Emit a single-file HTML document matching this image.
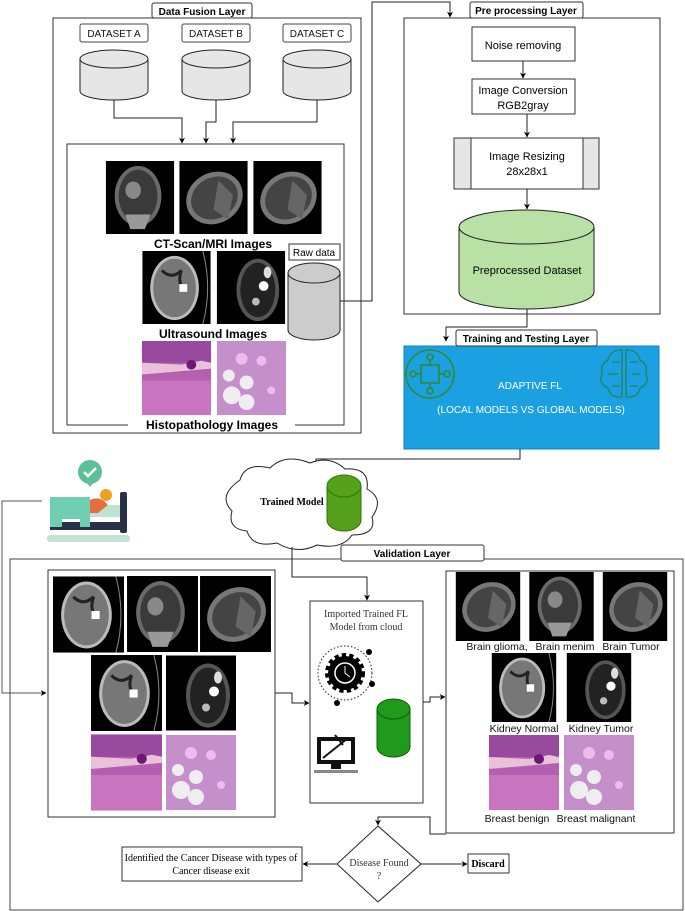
<!DOCTYPE html>
<html><head><meta charset="utf-8"><style>
html,body{margin:0;padding:0;background:#fff;}
svg{display:block;}
text{font-family:"Liberation Sans",sans-serif;}
.s{font-family:"Liberation Serif",serif;}
</style></head><body>
<svg width="685" height="911" viewBox="0 0 685 911" xmlns="http://www.w3.org/2000/svg">
<defs>
<marker id="a" viewBox="0 0 10 10" refX="9" refY="5" markerWidth="6" markerHeight="6" orient="auto"><path d="M0,0 L10,5 L0,10 L3,5 z" fill="#000"/></marker>
<symbol id="mri" viewBox="0 0 70 75"><rect width="70" height="75" fill="#000"/><ellipse cx="33" cy="36" rx="24" ry="31" fill="#6a6a6a"/><ellipse cx="33" cy="36" rx="20" ry="27" fill="#3a3a3a"/><ellipse cx="28" cy="30" rx="8" ry="9" fill="#888"/><path d="M20 55 L25 70 L40 70 L46 55" fill="#999"/></symbol>
<symbol id="mri2" viewBox="0 0 70 75"><rect width="70" height="75" fill="#000"/><ellipse cx="36" cy="38" rx="30" ry="26" fill="#777" transform="rotate(-30 36 38)"/><ellipse cx="36" cy="38" rx="25" ry="21" fill="#444" transform="rotate(-30 36 38)"/><path d="M40 20 L55 35 L50 60 L35 50z" fill="#666"/></symbol>
<symbol id="kid" viewBox="0 0 70 75"><rect width="70" height="75" fill="#000"/><ellipse cx="33" cy="38" rx="25" ry="33" fill="#bbb"/><ellipse cx="33" cy="38" rx="22" ry="30" fill="#777"/><path d="M20 20 q10 10 20 0 q-5 15 5 20" stroke="#222" stroke-width="3" fill="none"/><rect x="38" y="34" width="8" height="8" fill="#fff"/><path d="M62 0 Q72 38 62 75" stroke="#888" fill="none"/></symbol>
<symbol id="kid2" viewBox="0 0 70 75"><rect width="70" height="75" fill="#000"/><ellipse cx="42" cy="40" rx="22" ry="32" fill="#555"/><ellipse cx="42" cy="40" rx="18" ry="28" fill="#222"/><circle cx="48" cy="36" r="5" fill="#fff"/><circle cx="40" cy="52" r="4" fill="#bbb"/><ellipse cx="52" cy="22" rx="4" ry="6" fill="#ddd"/></symbol>
<symbol id="h1" viewBox="0 0 70 75"><rect width="70" height="75" fill="#b55fb0"/><rect y="0" width="70" height="22" fill="#9a4a9e"/><path d="M0 22 L40 24 L60 20 L70 22 L70 28 L0 34z" fill="#e8c2d8"/><circle cx="50" cy="24" r="5" fill="#6a1a70"/><rect y="40" width="70" height="35" fill="#c874be"/></symbol>
<symbol id="h2" viewBox="0 0 70 75"><rect width="70" height="75" fill="#c58fcb"/><circle cx="15" cy="55" r="9" fill="#eee"/><circle cx="30" cy="62" r="8" fill="#eee"/><circle cx="12" cy="35" r="6" fill="#eee"/><circle cx="30" cy="42" r="7" fill="#eee"/><circle cx="45" cy="20" r="5" fill="#ebe"/><circle cx="25" cy="18" r="6" fill="#ebe"/><circle cx="55" cy="50" r="4" fill="#ebe"/></symbol>
</defs>

<!-- Data fusion layer -->
<rect x="53" y="18" width="308" height="415" fill="none" stroke="#333" stroke-width="1"/>
<rect x="152" y="3" width="100" height="15" rx="2" fill="#fff" stroke="#333"/>
<text x="202" y="15" font-size="10" font-weight="bold" text-anchor="middle">Data Fusion Layer</text>
<g font-size="10" text-anchor="middle" fill="#111">
<rect x="80" y="24" width="68" height="18" rx="2" fill="#fff" stroke="#444"/><text x="114" y="37">DATASET A</text>
<rect x="182" y="24" width="68" height="18" rx="2" fill="#fff" stroke="#444"/><text x="216" y="37">DATASET B</text>
<rect x="283" y="24" width="68" height="18" rx="2" fill="#fff" stroke="#444"/><text x="317" y="37">DATASET C</text>
</g>
<g fill="#e6e6e6" stroke="#222">
<path d="M80 59 V91 A34 9 0 0 0 148 91 V59"/><ellipse cx="114" cy="59" rx="34" ry="9"/>
<path d="M182 59 V91 A34 9 0 0 0 250 91 V59"/><ellipse cx="216" cy="59" rx="34" ry="9"/>
<path d="M283 59 V91 A34 9 0 0 0 351 91 V59"/><ellipse cx="317" cy="59" rx="34" ry="9"/>
</g>
<g fill="none" stroke="#222" stroke-width="1">
<path d="M114 100 V118 H182 V143" marker-end="url(#a)"/>
<path d="M216 100 V122 H206 V143" marker-end="url(#a)"/>
<path d="M317 100 V122 H233 V143" marker-end="url(#a)"/>
</g>
<path d="M128 425 H67 V144 H344 V425 H295" fill="none" stroke="#333"/>
<use href="#mri" x="105" y="161" width="70" height="73"/>
<use href="#mri2" x="178" y="161" width="71" height="73"/>
<use href="#mri2" x="252" y="161" width="71" height="73"/>
<text x="213" y="248" font-size="12" font-weight="bold" text-anchor="middle">CT-Scan/MRI Images</text>
<use href="#kid" x="141" y="251" width="71" height="73"/>
<use href="#kid2" x="216" y="251" width="70" height="73"/>
<text x="213" y="338" font-size="12" font-weight="bold" text-anchor="middle">Ultrasound Images</text>
<use href="#h1" x="141" y="341" width="71" height="74"/>
<use href="#h2" x="216" y="341" width="71" height="74"/>
<text x="212" y="429" font-size="12" font-weight="bold" text-anchor="middle">Histopathology Images</text>
<rect x="289" y="244" width="51" height="16" fill="#fff" stroke="#333"/>
<text x="314" y="256" font-size="10" text-anchor="middle">Raw data</text>
<path d="M288 273 V330 A26 10 0 0 0 340 330 V273" fill="#cccccc" stroke="#222"/><ellipse cx="314" cy="273" rx="26" ry="10" fill="#cccccc" stroke="#222"/>
<path d="M340 301 H372 V2 H450 V17" fill="none" stroke="#222" marker-end="url(#a)"/>

<!-- Preprocessing -->
<rect x="404" y="18" width="256" height="296" fill="none" stroke="#333"/>
<rect x="470" y="2" width="113" height="16" rx="2" fill="#fff" stroke="#333"/>
<text x="526" y="14" font-size="10" font-weight="bold" text-anchor="middle">Pre processing Layer</text>
<rect x="472" y="27" width="103" height="34" fill="#fff" stroke="#333"/>
<text x="523" y="49" font-size="11" text-anchor="middle">Noise removing</text>
<path d="M523 61 V78" stroke="#222" marker-end="url(#a)"/>
<rect x="472" y="79" width="103" height="35" fill="#fff" stroke="#333"/>
<text x="523" y="94" font-size="11" text-anchor="middle">Image Conversion</text>
<text x="523" y="109" font-size="11" text-anchor="middle">RGB2gray</text>
<path d="M527 114 V137" stroke="#222" marker-end="url(#a)"/>
<rect x="454" y="138" width="145" height="51" fill="#e6e6e6" stroke="#333"/>
<rect x="471" y="138" width="112" height="51" fill="#fff" stroke="#333"/>
<text x="527" y="160" font-size="11" text-anchor="middle">Image Resizing</text>
<text x="527" y="175" font-size="11" text-anchor="middle">28x28x1</text>
<path d="M527 189 V209" stroke="#222" marker-end="url(#a)"/>
<path d="M459 227 V292 A67.5 17 0 0 0 594 292 V227" fill="#b9e0a5" stroke="#222"/><ellipse cx="526.5" cy="227" rx="67.5" ry="17" fill="#b9e0a5" stroke="#222"/>
<text x="527" y="274" font-size="11" text-anchor="middle">Preprocessed Dataset</text>
<path d="M527 309 V327 H446 V341" fill="none" stroke="#222" marker-end="url(#a)"/>

<!-- Training -->
<rect x="404" y="346" width="255" height="103" fill="#1ba1e2" stroke="#1480c0"/>
<rect x="456" y="330" width="141" height="16" rx="2" fill="#fff" stroke="#333"/>
<text x="526" y="342" font-size="10" font-weight="bold" text-anchor="middle">Training and Testing Layer</text>
<text x="530" y="389" font-size="10" fill="#fff" text-anchor="middle">ADAPTIVE FL</text>
<text x="531" y="413" font-size="10" fill="#fff" text-anchor="middle">(LOCAL MODELS VS GLOBAL MODELS)</text>
<g stroke="#2e8b2e" stroke-width="1.6" fill="none">
<circle cx="430" cy="374" r="24"/><rect x="421" y="365" width="18" height="18"/>
<circle cx="430" cy="357" r="3"/><circle cx="430" cy="391" r="3"/><circle cx="413" cy="374" r="3"/><circle cx="447" cy="374" r="3"/>
<path d="M430 360V365M430 383V388M416 374H421M439 374H444"/>
</g>
<g stroke="#1f8a70" stroke-width="1.6" fill="none">
<path d="M622 350 q-12 0 -14 10 q-8 4 -6 14 q-4 10 6 14 q2 10 14 9 z"/>
<path d="M626 350 q12 0 14 10 q8 4 6 14 q4 10 -6 14 q-2 10 -14 9 z"/>
<path d="M612 362h8M608 374h10M612 386h8M630 362h8M632 374h8M630 386h8"/>
</g>

<!-- to cloud -->
<path d="M520 449 V459 H316 V466" fill="none" stroke="#222" marker-end="url(#a)"/>
<path d="M240 480 q5 -18 30 -12 q15 -15 40 -5 q20 -8 35 6 q25 -2 22 20 q18 10 5 28 q5 18 -20 18 q-10 15 -35 10 q-20 10 -40 -2 q-25 5 -30 -12 q-20 -2 -15 -20 q-15 -15 8 -31 z" fill="#fff" stroke="#222"/>
<text x="292" y="505" class="s" font-size="10" font-weight="bold" text-anchor="middle">Trained Model</text>
<path d="M327 486 V520 A17 11 0 0 0 361 520 V486" fill="#55a11c" stroke="#2d7600"/><ellipse cx="344" cy="486" rx="17" ry="11" fill="#55a11c" stroke="#2d7600"/>

<!-- patient -->
<circle cx="90" cy="472" r="12" fill="#5cbf9a"/><path d="M84 472 l4 4 l8 -8" stroke="#fff" stroke-width="2.5" fill="none"/>
<path d="M86 482 l4 5 l4 -5z" fill="#5cbf9a"/>
<rect x="47" y="535" width="83" height="7" rx="3" fill="#c5e3d5"/>
<rect x="50" y="522" width="77" height="8" fill="#27324a"/>
<rect x="120" y="492" width="7" height="41" rx="2" fill="#27324a"/>
<path d="M50 497 h40 v30 h-10 v-8 h-18 v8 h-12z" fill="#6fcdb0"/>
<path d="M90 505 h30 v12 h-30z" fill="#bde3d4"/>
<circle cx="106" cy="495" r="6" fill="#f0a020"/><path d="M90 500 q10 -5 18 5 l-10 8 h-8z" fill="#e46f3d"/>

<!-- Validation -->
<path d="M42 501 H2 V693 H46" fill="none" stroke="#555" marker-end="url(#a)"/>
<rect x="10" y="559" width="673" height="351" fill="none" stroke="#444"/>
<rect x="341" y="545" width="143" height="16" rx="2" fill="#fff" stroke="#333"/>
<text x="412" y="557" font-size="10" font-weight="bold" text-anchor="middle">Validation Layer</text>
<rect x="48" y="570" width="227" height="247" fill="none" stroke="#333"/>
<use href="#kid" x="53" y="576" width="71" height="77"/>
<use href="#mri" x="127" y="576" width="71" height="76"/>
<use href="#mri2" x="200" y="576" width="71" height="76"/>
<use href="#kid" x="91" y="655" width="71" height="76"/>
<use href="#kid2" x="166" y="655" width="70" height="76"/>
<use href="#h1" x="91" y="734" width="71" height="77"/>
<use href="#h2" x="166" y="734" width="70" height="77"/>
<path d="M292 547 V577 H367 V600" fill="none" stroke="#222" marker-end="url(#a)"/>
<rect x="310" y="601" width="113" height="202" fill="#fff" stroke="#333"/>
<text x="366" y="617" class="s" font-size="10" text-anchor="middle" fill="#333">Imported Trained FL</text>
<text x="366" y="630" class="s" font-size="10" text-anchor="middle" fill="#333">Model from cloud</text>
<circle cx="345" cy="673" r="27" fill="none" stroke="#222" stroke-dasharray="1.5 2"/>
<circle cx="369" cy="652" r="3" fill="#000"/><circle cx="372" cy="684" r="3" fill="#000"/><circle cx="337" cy="703" r="3" fill="#000"/>
<circle cx="345" cy="673" r="17" fill="#000" stroke="#000" stroke-width="6" stroke-dasharray="4 3"/>
<circle cx="345" cy="673" r="10" fill="none" stroke="#fff" stroke-width="1.5"/><path d="M345 666 V673 L350 677" stroke="#fff" fill="none"/>
<rect x="317" y="737" width="38" height="27" fill="#111"/><rect x="321" y="741" width="30" height="19" fill="#fff"/>
<path d="M323 758 L348 738 M335 735 l8 10" stroke="#111" stroke-width="2"/>
<rect x="331" y="764" width="10" height="5" fill="#111"/><rect x="314" y="770" width="44" height="3" fill="#888"/>
<path d="M377 709 V747 A16.5 10 0 0 0 410 747 V709" fill="#1f9a1a" stroke="#0d5e0b"/><ellipse cx="393.5" cy="709" rx="16.5" ry="10" fill="#1f9a1a" stroke="#0d5e0b"/>
<path d="M275 693 H292 V703 H309" fill="none" stroke="#222" marker-end="url(#a)"/>
<path d="M423 702 H430 V697 H445" fill="none" stroke="#222" marker-end="url(#a)"/>
<rect x="446" y="571" width="228" height="262" fill="none" stroke="#333"/>
<use href="#mri2" x="453" y="572" width="70" height="69"/>
<use href="#mri" x="526" y="572" width="71" height="69"/>
<use href="#mri2" x="600" y="572" width="70" height="69"/>
<g font-size="10.5" text-anchor="middle" fill="#111">
<text x="497" y="650">Brain glioma,</text><text x="565" y="650">Brain menim</text><text x="631" y="650">Brain Tumor</text>
<text x="524" y="732">Kidney Normal</text><text x="601" y="732">Kidney Tumor</text>
<text x="517" y="822">Breast benign</text><text x="596" y="822">Breast malignant</text>
</g>
<use href="#kid" x="489" y="653" width="70" height="69"/>
<use href="#kid2" x="564" y="653" width="70" height="69"/>
<use href="#h1" x="489" y="735" width="70" height="75"/>
<use href="#h2" x="564" y="735" width="70" height="75"/>
<path d="M446 834 H430 V817 H378 V825" fill="none" stroke="#222" marker-end="url(#a)"/>
<path d="M378 826 L421 864 L378 902 L337 864z" fill="#fff" stroke="#222"/>
<text x="379" y="866" class="s" font-size="10" text-anchor="middle" fill="#333">Disease Found</text>
<text x="379" y="879" class="s" font-size="10" text-anchor="middle" fill="#333">?</text>
<rect x="122" y="847" width="180" height="34" fill="#fff" stroke="#333"/>
<text x="211" y="861" class="s" font-size="10" text-anchor="middle">Identified the Cancer Disease with types of</text>
<text x="211" y="874" class="s" font-size="10" text-anchor="middle">Cancer disease exit</text>
<path d="M337 864 H303" fill="none" stroke="#222" marker-end="url(#a)"/>
<path d="M421 864 H467" fill="none" stroke="#222" marker-end="url(#a)"/>
<rect x="468" y="854" width="41" height="19" fill="#fff" stroke="#333"/>
<text x="488" y="867" class="s" font-size="10" font-weight="bold" text-anchor="middle">Discard</text>
</svg>
</body></html>
